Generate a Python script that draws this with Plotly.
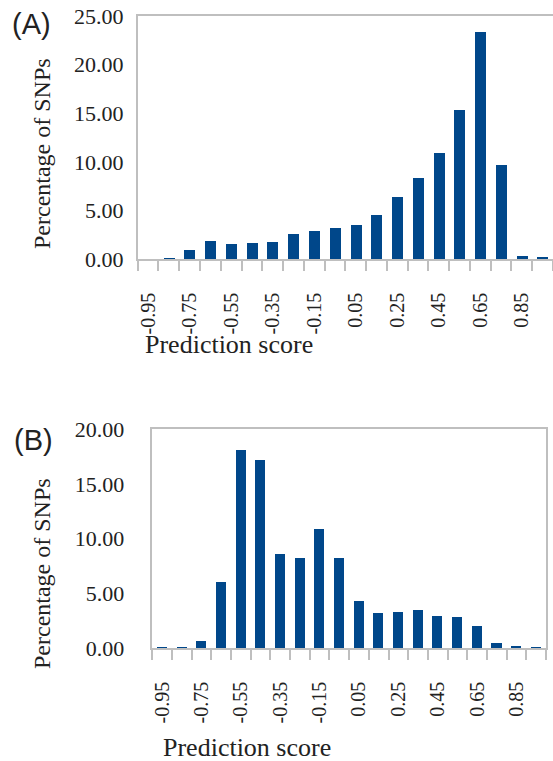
import plotly.graph_objects as go

W, H = 553, 761

scores = [-0.95, -0.85, -0.75, -0.65, -0.55, -0.45, -0.35, -0.25, -0.15, -0.05,
          0.05, 0.15, 0.25, 0.35, 0.45, 0.55, 0.65, 0.75, 0.85, 0.95]
pct_a = [0.0, 0.08, 0.96, 1.89, 1.58, 1.68, 1.78, 2.61, 2.92, 3.22,
         3.53, 4.56, 6.38, 8.33, 10.9, 15.33, 23.35, 9.67, 0.31, 0.21]
pct_b = [0.05, 0.05, 0.58, 6.05, 18.1, 17.2, 8.6, 8.24, 10.9, 8.24,
         4.3, 3.2, 3.3, 3.48, 2.93, 2.84, 2.02, 0.4, 0.1, 0.05]
tick_labels = ["-0.95", "-0.75", "-0.55", "-0.35", "-0.15", "0.05", "0.25", "0.45", "0.65", "0.85"]
tick_positions = [float(t) for t in tick_labels]
boundaries = [round(-1.0 + 0.1 * i, 2) for i in range(21)]
y_ticks_a = [0, 5, 10, 15, 20, 25]
y_ticks_b = [0, 5, 10, 15, 20]

BAR = "#00478A"
GRID = "#BFBFBF"
TXT = "#222222"
SERIF = "Liberation Serif, Times New Roman, serif"
SANS = "Liberation Sans, Arial, sans-serif"


def px_x(x):
    return x / W


def px_y(y):
    return 1 - y / H


fig = go.Figure()
fig.add_trace(go.Bar(x=scores, y=pct_a, width=0.053, marker_color=BAR,
                     marker_line_width=0, xaxis="x", yaxis="y", showlegend=False))
fig.add_trace(go.Bar(x=scores, y=pct_b, width=0.051, marker_color=BAR,
                     marker_line_width=0, xaxis="x2", yaxis="y2", showlegend=False))


def xaxis_cfg(dom, anchor):
    return dict(domain=dom, anchor=anchor, range=[-1.0, 1.0], automargin=False,
                tickmode="array", tickvals=tick_positions, ticktext=tick_labels,
                tickangle=-90, ticks="", showgrid=False, zeroline=False,
                showline=True, linecolor=GRID, linewidth=1.5, mirror=True,
                tickfont=dict(family=SERIF, size=20, color=TXT),
                ticklabelstandoff=24,
                minor=dict(tickmode="array", tickvals=boundaries, ticks="outside",
                           ticklen=10, tickcolor=GRID, tickwidth=1.5, showgrid=False))


def yaxis_cfg(dom, anchor, rng, vals, standoff):
    return dict(domain=dom, anchor=anchor, range=rng, tickmode="array", automargin=False,
                tickvals=vals, ticktext=[f"{v:.2f}" for v in vals],
                ticks="", showgrid=False, zeroline=False,
                showline=True, linecolor=GRID, linewidth=1.5, mirror=True,
                tickfont=dict(family=SERIF, size=22, color=TXT),
                ticklabelstandoff=standoff)


fig.update_layout(
    width=W, height=H, margin=dict(l=0, r=0, t=0, b=0, autoexpand=False),
    paper_bgcolor="white", plot_bgcolor="white",
    bargap=0,
    xaxis=xaxis_cfg([px_x(137.7), 1.0], "y"),
    yaxis=yaxis_cfg([px_y(259), px_y(16)], "x", [0, 25], y_ticks_a, 8),
    xaxis2=xaxis_cfg([px_x(152.3), px_x(546)], "y2"),
    yaxis2=yaxis_cfg([px_y(648), px_y(429.3)], "x2", [0, 20], y_ticks_b, 22),
)

annots = [
    dict(text="(A)", x=px_x(31), y=px_y(24), font=dict(family=SANS, size=29, color=TXT)),
    dict(text="(B)", x=px_x(33), y=px_y(440), font=dict(family=SANS, size=29, color=TXT)),
    dict(text="Percentage of SNPs", x=px_x(42), y=px_y(154), textangle=-90,
         font=dict(family=SERIF, size=24, color=TXT)),
    dict(text="Percentage of SNPs", x=px_x(42), y=px_y(574), textangle=-90,
         font=dict(family=SERIF, size=24, color=TXT)),
    dict(text="Prediction score", x=px_x(229), y=px_y(344),
         font=dict(family=SERIF, size=26, color=TXT)),
    dict(text="Prediction score", x=px_x(247), y=px_y(747),
         font=dict(family=SERIF, size=26, color=TXT)),
]
for a in annots:
    fig.add_annotation(xref="paper", yref="paper", showarrow=False,
                       xanchor="center", yanchor="middle", **a)

fig.write_html("out.html", config={"displayModeBar": False},
               post_script="document.body.style.margin='0';document.body.style.overflow='hidden';")
